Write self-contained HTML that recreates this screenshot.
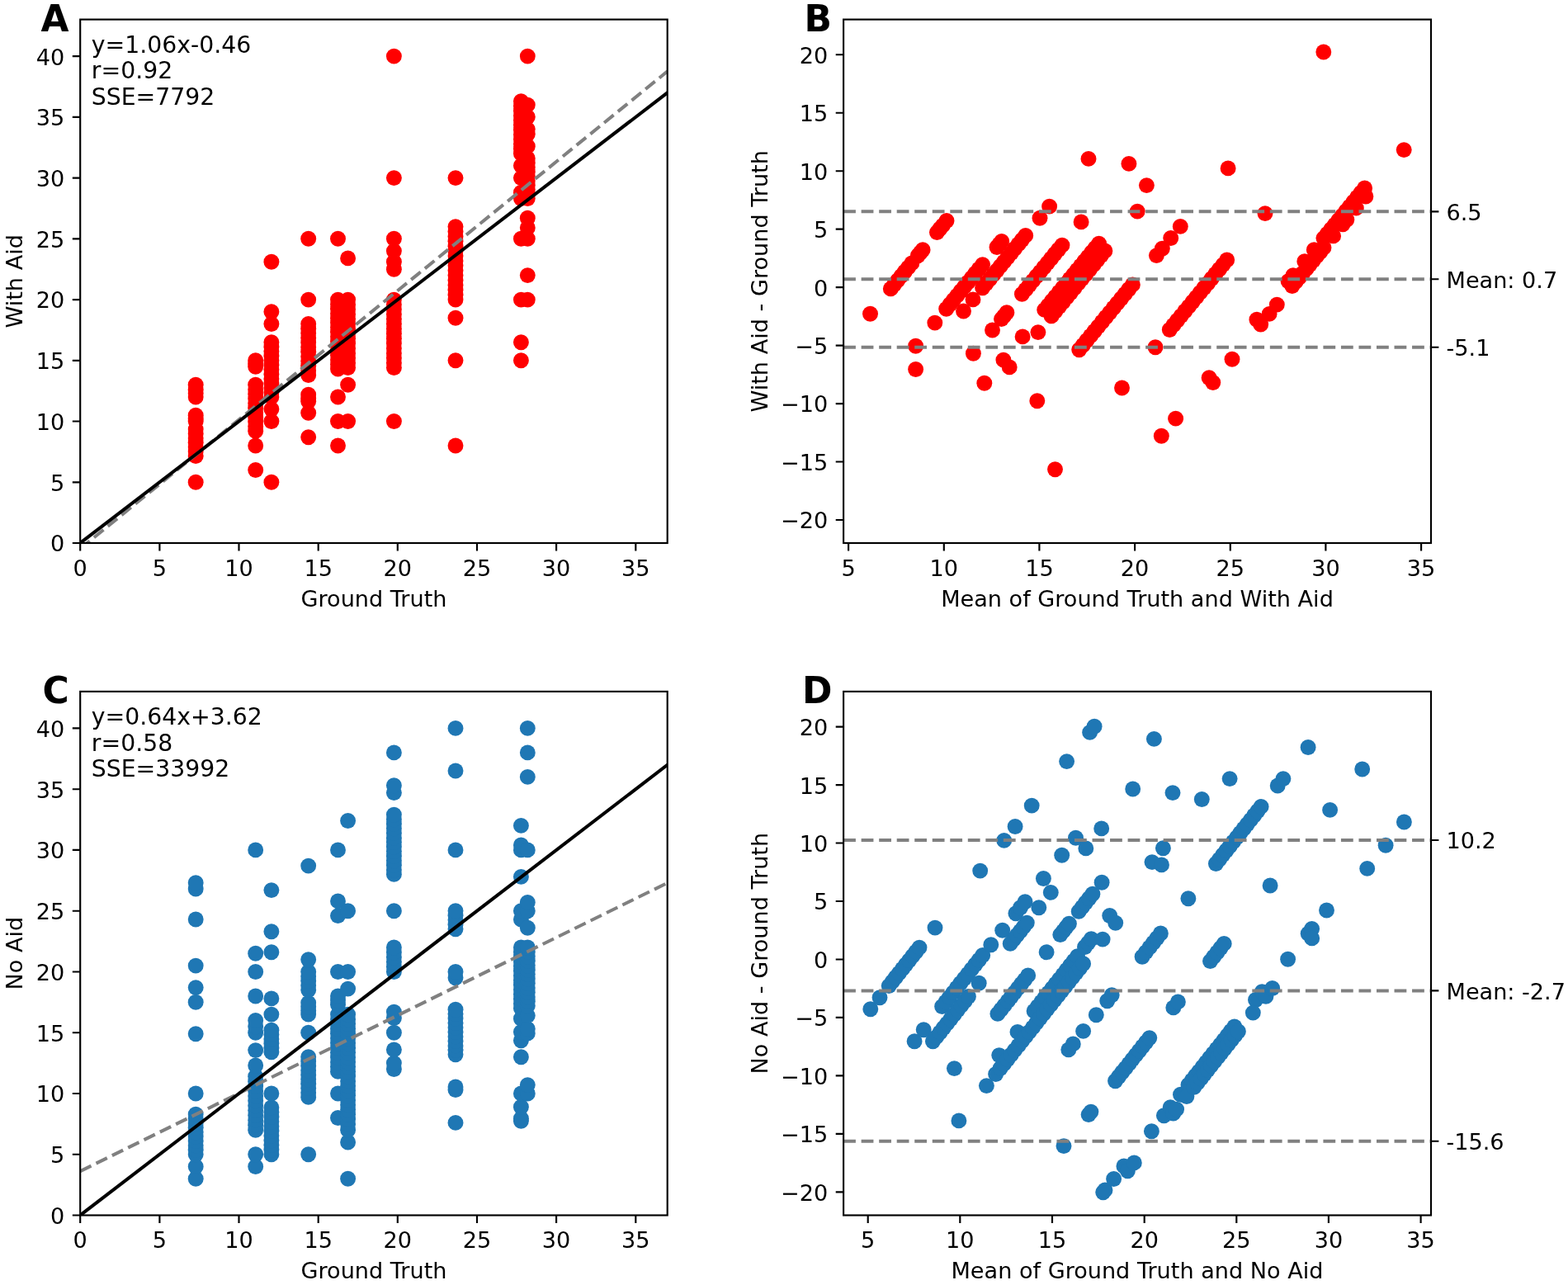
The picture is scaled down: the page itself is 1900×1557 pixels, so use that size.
<!DOCTYPE html>
<html lang="en"><head><meta charset="utf-8"><title>Figure: With Aid / No Aid vs Ground Truth</title>
<style>html,body{margin:0;padding:0;background:#fff}body{width:1900px;height:1557px;overflow:hidden}svg{display:block}text{font-family:"DejaVu Sans","Liberation Sans",sans-serif;fill:#000}.t{font-size:27.10px}.n{font-size:28.30px}.b{font-size:43.90px;font-weight:bold}.sp{fill:none;stroke:#000;stroke-width:2.15;stroke-linecap:square}.tk{stroke:#000;stroke-width:2.15;fill:none}.ln{stroke:#000;stroke-width:4.05;fill:none;stroke-linecap:square}.dl{stroke:#808080;stroke-width:4.05;fill:none;stroke-dasharray:14.8 6.73}.r{fill:#ff0000}.u{fill:#1f77b4}</style></head><body>
<svg width="1900" height="1557" viewBox="0 0 1900 1557">
<rect width="1900" height="1557" fill="#fff"/>
<defs>
<clipPath id="cA"><rect x="97.2" y="23.6" width="711.5" height="634.4"/></clipPath>
<clipPath id="cB"><rect x="1022.1" y="23.6" width="711.9" height="634.4"/></clipPath>
<clipPath id="cC"><rect x="97.2" y="837.9" width="711.5" height="634.6"/></clipPath>
<clipPath id="cD"><rect x="1022.1" y="837.9" width="711.9" height="634.6"/></clipPath>
</defs>
<g id="panel-A">
<g clip-path="url(#cA)">
<g class="r"><circle cx="237.2" cy="584.3" r="9.45"/><circle cx="237.2" cy="552.6" r="9.45"/><circle cx="237.2" cy="547.1" r="9.45"/><circle cx="237.2" cy="541.7" r="9.45"/><circle cx="237.2" cy="536.3" r="9.45"/><circle cx="237.2" cy="530.9" r="9.45"/><circle cx="237.2" cy="525.5" r="9.45"/><circle cx="237.2" cy="520.1" r="9.45"/><circle cx="237.2" cy="510.5" r="9.45"/><circle cx="237.2" cy="506.8" r="9.45"/><circle cx="237.2" cy="503.2" r="9.45"/><circle cx="237.2" cy="481" r="9.45"/><circle cx="237.2" cy="476.6" r="9.45"/><circle cx="237.2" cy="472.2" r="9.45"/><circle cx="237.2" cy="466.3" r="9.45"/><circle cx="309.7" cy="569.5" r="9.45"/><circle cx="309.7" cy="540" r="9.45"/><circle cx="309.7" cy="522.3" r="9.45"/><circle cx="309.7" cy="516.7" r="9.45"/><circle cx="309.7" cy="511.1" r="9.45"/><circle cx="309.7" cy="505.5" r="9.45"/><circle cx="309.7" cy="499.9" r="9.45"/><circle cx="309.7" cy="494.3" r="9.45"/><circle cx="309.7" cy="488.7" r="9.45"/><circle cx="309.7" cy="483.1" r="9.45"/><circle cx="309.7" cy="477.5" r="9.45"/><circle cx="309.7" cy="471.9" r="9.45"/><circle cx="309.7" cy="466.3" r="9.45"/><circle cx="309.7" cy="444.2" r="9.45"/><circle cx="309.7" cy="440.5" r="9.45"/><circle cx="309.7" cy="436.8" r="9.45"/><circle cx="328.9" cy="584.3" r="9.45"/><circle cx="328.9" cy="510.5" r="9.45"/><circle cx="328.9" cy="495.8" r="9.45"/><circle cx="328.9" cy="481" r="9.45"/><circle cx="328.9" cy="475.5" r="9.45"/><circle cx="328.9" cy="470" r="9.45"/><circle cx="328.9" cy="464.4" r="9.45"/><circle cx="328.9" cy="458.9" r="9.45"/><circle cx="328.9" cy="453.4" r="9.45"/><circle cx="328.9" cy="447.8" r="9.45"/><circle cx="328.9" cy="442.3" r="9.45"/><circle cx="328.9" cy="436.8" r="9.45"/><circle cx="328.9" cy="431.3" r="9.45"/><circle cx="328.9" cy="425.7" r="9.45"/><circle cx="328.9" cy="420.2" r="9.45"/><circle cx="328.9" cy="414.7" r="9.45"/><circle cx="328.9" cy="392.5" r="9.45"/><circle cx="328.9" cy="377.8" r="9.45"/><circle cx="328.9" cy="317.3" r="9.45"/><circle cx="373.7" cy="529.7" r="9.45"/><circle cx="373.7" cy="500.2" r="9.45"/><circle cx="373.7" cy="486.2" r="9.45"/><circle cx="373.7" cy="482.5" r="9.45"/><circle cx="373.7" cy="478.1" r="9.45"/><circle cx="373.7" cy="454.5" r="9.45"/><circle cx="373.7" cy="448.9" r="9.45"/><circle cx="373.7" cy="443.2" r="9.45"/><circle cx="373.7" cy="437.6" r="9.45"/><circle cx="373.7" cy="432" r="9.45"/><circle cx="373.7" cy="426.3" r="9.45"/><circle cx="373.7" cy="420.7" r="9.45"/><circle cx="373.7" cy="415.1" r="9.45"/><circle cx="373.7" cy="409.4" r="9.45"/><circle cx="373.7" cy="403.8" r="9.45"/><circle cx="373.7" cy="398.2" r="9.45"/><circle cx="373.7" cy="392.5" r="9.45"/><circle cx="373.7" cy="363.1" r="9.45"/><circle cx="373.7" cy="289.3" r="9.45"/><circle cx="409.5" cy="540" r="9.45"/><circle cx="409.5" cy="510.5" r="9.45"/><circle cx="409.5" cy="481" r="9.45"/><circle cx="409.5" cy="447.1" r="9.45"/><circle cx="409.5" cy="441.5" r="9.45"/><circle cx="409.5" cy="435.9" r="9.45"/><circle cx="409.5" cy="430.3" r="9.45"/><circle cx="409.5" cy="424.7" r="9.45"/><circle cx="409.5" cy="419.1" r="9.45"/><circle cx="409.5" cy="413.5" r="9.45"/><circle cx="409.5" cy="407.9" r="9.45"/><circle cx="409.5" cy="402.3" r="9.45"/><circle cx="409.5" cy="396.7" r="9.45"/><circle cx="409.5" cy="391.1" r="9.45"/><circle cx="409.5" cy="385.5" r="9.45"/><circle cx="409.5" cy="379.9" r="9.45"/><circle cx="409.5" cy="374.3" r="9.45"/><circle cx="409.5" cy="368.7" r="9.45"/><circle cx="409.5" cy="363.1" r="9.45"/><circle cx="409.5" cy="289.3" r="9.45"/><circle cx="421.6" cy="510.5" r="9.45"/><circle cx="421.6" cy="466.3" r="9.45"/><circle cx="421.6" cy="445.6" r="9.45"/><circle cx="421.6" cy="439.7" r="9.45"/><circle cx="421.6" cy="433.8" r="9.45"/><circle cx="421.6" cy="427.9" r="9.45"/><circle cx="421.6" cy="422" r="9.45"/><circle cx="421.6" cy="416.1" r="9.45"/><circle cx="421.6" cy="410.2" r="9.45"/><circle cx="421.6" cy="404.3" r="9.45"/><circle cx="421.6" cy="398.4" r="9.45"/><circle cx="421.6" cy="392.5" r="9.45"/><circle cx="421.6" cy="386.6" r="9.45"/><circle cx="421.6" cy="380.7" r="9.45"/><circle cx="421.6" cy="374.8" r="9.45"/><circle cx="421.6" cy="368.9" r="9.45"/><circle cx="421.6" cy="363.1" r="9.45"/><circle cx="421.6" cy="312.9" r="9.45"/><circle cx="477.4" cy="510.5" r="9.45"/><circle cx="477.4" cy="445.6" r="9.45"/><circle cx="477.4" cy="439.7" r="9.45"/><circle cx="477.4" cy="433.8" r="9.45"/><circle cx="477.4" cy="427.9" r="9.45"/><circle cx="477.4" cy="422" r="9.45"/><circle cx="477.4" cy="416.1" r="9.45"/><circle cx="477.4" cy="410.2" r="9.45"/><circle cx="477.4" cy="404.3" r="9.45"/><circle cx="477.4" cy="398.4" r="9.45"/><circle cx="477.4" cy="392.5" r="9.45"/><circle cx="477.4" cy="386.6" r="9.45"/><circle cx="477.4" cy="380.7" r="9.45"/><circle cx="477.4" cy="374.8" r="9.45"/><circle cx="477.4" cy="368.9" r="9.45"/><circle cx="477.4" cy="363.1" r="9.45"/><circle cx="477.4" cy="326.2" r="9.45"/><circle cx="477.4" cy="317.3" r="9.45"/><circle cx="477.4" cy="304.1" r="9.45"/><circle cx="477.4" cy="289.3" r="9.45"/><circle cx="477.4" cy="215.6" r="9.45"/><circle cx="477.4" cy="68.1" r="9.45"/><circle cx="552" cy="540" r="9.45"/><circle cx="552" cy="436.8" r="9.45"/><circle cx="552" cy="385.2" r="9.45"/><circle cx="552" cy="363.1" r="9.45"/><circle cx="552" cy="357.2" r="9.45"/><circle cx="552" cy="351.3" r="9.45"/><circle cx="552" cy="345.4" r="9.45"/><circle cx="552" cy="339.5" r="9.45"/><circle cx="552" cy="333.6" r="9.45"/><circle cx="552" cy="327.7" r="9.45"/><circle cx="552" cy="321.8" r="9.45"/><circle cx="552" cy="315.9" r="9.45"/><circle cx="552" cy="310" r="9.45"/><circle cx="552" cy="304.1" r="9.45"/><circle cx="552" cy="298.2" r="9.45"/><circle cx="552" cy="292.3" r="9.45"/><circle cx="552" cy="286.4" r="9.45"/><circle cx="552" cy="280.5" r="9.45"/><circle cx="552" cy="274.6" r="9.45"/><circle cx="552" cy="215.6" r="9.45"/><circle cx="631.4" cy="436.8" r="9.45"/><circle cx="631.4" cy="414.7" r="9.45"/><circle cx="631.4" cy="363.1" r="9.45"/><circle cx="631.4" cy="289.3" r="9.45"/><circle cx="631.4" cy="240.6" r="9.45"/><circle cx="631.4" cy="233.3" r="9.45"/><circle cx="631.4" cy="215.6" r="9.45"/><circle cx="631.4" cy="200.8" r="9.45"/><circle cx="631.4" cy="186.1" r="9.45"/><circle cx="631.4" cy="180.3" r="9.45"/><circle cx="631.4" cy="174.6" r="9.45"/><circle cx="631.4" cy="168.8" r="9.45"/><circle cx="631.4" cy="163" r="9.45"/><circle cx="631.4" cy="157.3" r="9.45"/><circle cx="631.4" cy="151.5" r="9.45"/><circle cx="631.4" cy="145.7" r="9.45"/><circle cx="631.4" cy="140" r="9.45"/><circle cx="631.4" cy="134.2" r="9.45"/><circle cx="631.4" cy="128.4" r="9.45"/><circle cx="631.4" cy="122.7" r="9.45"/><circle cx="639.3" cy="363.1" r="9.45"/><circle cx="639.3" cy="333.6" r="9.45"/><circle cx="639.3" cy="289.3" r="9.45"/><circle cx="639.3" cy="276" r="9.45"/><circle cx="639.3" cy="264.2" r="9.45"/><circle cx="639.3" cy="240.6" r="9.45"/><circle cx="639.3" cy="235.2" r="9.45"/><circle cx="639.3" cy="229.8" r="9.45"/><circle cx="639.3" cy="224.4" r="9.45"/><circle cx="639.3" cy="219" r="9.45"/><circle cx="639.3" cy="213.6" r="9.45"/><circle cx="639.3" cy="208.2" r="9.45"/><circle cx="639.3" cy="202.8" r="9.45"/><circle cx="639.3" cy="197.4" r="9.45"/><circle cx="639.3" cy="192" r="9.45"/><circle cx="639.3" cy="177.2" r="9.45"/><circle cx="639.3" cy="162.5" r="9.45"/><circle cx="639.3" cy="156.6" r="9.45"/><circle cx="639.3" cy="141.8" r="9.45"/><circle cx="639.3" cy="127.1" r="9.45"/><circle cx="639.3" cy="68.1" r="9.45"/></g>
<path class="dl" d="M97.2 664.8L808.8 86.4"/>
<path class="ln" d="M97.2 658.0L808.8 112.3"/>
</g>
<rect class="sp" x="97.2" y="23.6" width="711.5" height="634.4"/>
<text class="t" text-anchor="middle" x="97.2" y="697.5">0</text><text class="t" text-anchor="middle" x="193.4" y="697.5">5</text><text class="t" text-anchor="middle" x="289.5" y="697.5">10</text><text class="t" text-anchor="middle" x="385.7" y="697.5">15</text><text class="t" text-anchor="middle" x="481.8" y="697.5">20</text><text class="t" text-anchor="middle" x="578.0" y="697.5">25</text><text class="t" text-anchor="middle" x="674.1" y="697.5">30</text><text class="t" text-anchor="middle" x="770.3" y="697.5">35</text><path class="tk" d="M97.2 658.0v9.4M193.4 658.0v9.4M289.5 658.0v9.4M385.7 658.0v9.4M481.8 658.0v9.4M578.0 658.0v9.4M674.1 658.0v9.4M770.3 658.0v9.4"/>
<text class="t" text-anchor="end" x="78.3" y="668.4">0</text><text class="t" text-anchor="end" x="78.3" y="594.7">5</text><text class="t" text-anchor="end" x="78.3" y="520.9">10</text><text class="t" text-anchor="end" x="78.3" y="447.2">15</text><text class="t" text-anchor="end" x="78.3" y="373.4">20</text><text class="t" text-anchor="end" x="78.3" y="299.7">25</text><text class="t" text-anchor="end" x="78.3" y="226.0">30</text><text class="t" text-anchor="end" x="78.3" y="152.2">35</text><text class="t" text-anchor="end" x="78.3" y="78.5">40</text><path class="tk" d="M97.2 658.0h-9.4M97.2 584.3h-9.4M97.2 510.5h-9.4M97.2 436.8h-9.4M97.2 363.1h-9.4M97.2 289.3h-9.4M97.2 215.6h-9.4M97.2 141.8h-9.4M97.2 68.1h-9.4"/>
<text class="t" text-anchor="middle" x="453.0" y="734.5">Ground Truth</text>
<text class="t" text-anchor="middle" transform="translate(26.7 340.8) rotate(-90)">With Aid</text>
<text class="n" x="110.8" y="63.70">y=1.06x-0.46</text><text class="n" x="110.8" y="95.25">r=0.92</text><text class="n" x="110.8" y="126.80">SSE=7792</text>
<text class="b" x="49.6" y="37.9">A</text>
</g>
<g id="panel-B">
<g clip-path="url(#cB)">
<g class="r"><circle cx="1054.5" cy="380.2" r="9.45"/><circle cx="1079.3" cy="349.9" r="9.45"/><circle cx="1083.6" cy="344.8" r="9.45"/><circle cx="1087.8" cy="339.6" r="9.45"/><circle cx="1092.1" cy="334.4" r="9.45"/><circle cx="1096.3" cy="329.3" r="9.45"/><circle cx="1100.5" cy="324.1" r="9.45"/><circle cx="1104.8" cy="318.9" r="9.45"/><circle cx="1112.3" cy="309.8" r="9.45"/><circle cx="1115.2" cy="306.2" r="9.45"/><circle cx="1118.1" cy="302.7" r="9.45"/><circle cx="1135.4" cy="281.6" r="9.45"/><circle cx="1138.9" cy="277.3" r="9.45"/><circle cx="1142.4" cy="273.1" r="9.45"/><circle cx="1147" cy="267.5" r="9.45"/><circle cx="1109.6" cy="419.3" r="9.45"/><circle cx="1132.8" cy="391.1" r="9.45"/><circle cx="1146.7" cy="374.2" r="9.45"/><circle cx="1151.1" cy="368.8" r="9.45"/><circle cx="1155.4" cy="363.5" r="9.45"/><circle cx="1159.8" cy="358.1" r="9.45"/><circle cx="1164.2" cy="352.8" r="9.45"/><circle cx="1168.6" cy="347.4" r="9.45"/><circle cx="1173" cy="342" r="9.45"/><circle cx="1177.4" cy="336.7" r="9.45"/><circle cx="1181.8" cy="331.3" r="9.45"/><circle cx="1186.2" cy="326" r="9.45"/><circle cx="1190.6" cy="320.6" r="9.45"/><circle cx="1208" cy="299.5" r="9.45"/><circle cx="1210.9" cy="295.9" r="9.45"/><circle cx="1213.7" cy="292.4" r="9.45"/><circle cx="1109.6" cy="447.5" r="9.45"/><circle cx="1167.5" cy="377" r="9.45"/><circle cx="1179" cy="362.9" r="9.45"/><circle cx="1190.6" cy="348.8" r="9.45"/><circle cx="1194.9" cy="343.5" r="9.45"/><circle cx="1199.3" cy="338.2" r="9.45"/><circle cx="1203.6" cy="332.9" r="9.45"/><circle cx="1208" cy="327.7" r="9.45"/><circle cx="1212.3" cy="322.4" r="9.45"/><circle cx="1216.6" cy="317.1" r="9.45"/><circle cx="1221" cy="311.8" r="9.45"/><circle cx="1225.3" cy="306.5" r="9.45"/><circle cx="1229.6" cy="301.2" r="9.45"/><circle cx="1234" cy="295.9" r="9.45"/><circle cx="1238.3" cy="290.7" r="9.45"/><circle cx="1242.7" cy="285.4" r="9.45"/><circle cx="1260" cy="264.2" r="9.45"/><circle cx="1271.6" cy="250.1" r="9.45"/><circle cx="1319" cy="192.4" r="9.45"/><circle cx="1179.4" cy="428.2" r="9.45"/><circle cx="1202.5" cy="400" r="9.45"/><circle cx="1213.5" cy="386.6" r="9.45"/><circle cx="1216.4" cy="383.1" r="9.45"/><circle cx="1219.9" cy="378.8" r="9.45"/><circle cx="1238.4" cy="356.3" r="9.45"/><circle cx="1242.8" cy="350.9" r="9.45"/><circle cx="1247.2" cy="345.5" r="9.45"/><circle cx="1251.6" cy="340.1" r="9.45"/><circle cx="1256" cy="334.7" r="9.45"/><circle cx="1260.5" cy="329.4" r="9.45"/><circle cx="1264.9" cy="324" r="9.45"/><circle cx="1269.3" cy="318.6" r="9.45"/><circle cx="1273.7" cy="313.2" r="9.45"/><circle cx="1278.1" cy="307.8" r="9.45"/><circle cx="1282.5" cy="302.5" r="9.45"/><circle cx="1287" cy="297.1" r="9.45"/><circle cx="1310.1" cy="268.9" r="9.45"/><circle cx="1367.9" cy="198.4" r="9.45"/><circle cx="1192.8" cy="464.2" r="9.45"/><circle cx="1215.9" cy="436.1" r="9.45"/><circle cx="1239.1" cy="407.9" r="9.45"/><circle cx="1265.7" cy="375.4" r="9.45"/><circle cx="1270.1" cy="370.1" r="9.45"/><circle cx="1274.5" cy="364.7" r="9.45"/><circle cx="1278.9" cy="359.4" r="9.45"/><circle cx="1283.3" cy="354" r="9.45"/><circle cx="1287.7" cy="348.7" r="9.45"/><circle cx="1292.1" cy="343.3" r="9.45"/><circle cx="1296.4" cy="338" r="9.45"/><circle cx="1300.8" cy="332.6" r="9.45"/><circle cx="1305.2" cy="327.2" r="9.45"/><circle cx="1309.6" cy="321.9" r="9.45"/><circle cx="1314" cy="316.5" r="9.45"/><circle cx="1318.4" cy="311.2" r="9.45"/><circle cx="1322.8" cy="305.8" r="9.45"/><circle cx="1327.2" cy="300.5" r="9.45"/><circle cx="1331.6" cy="295.1" r="9.45"/><circle cx="1389.4" cy="224.6" r="9.45"/><circle cx="1223.2" cy="444.9" r="9.45"/><circle cx="1257.9" cy="402.6" r="9.45"/><circle cx="1274.1" cy="382.9" r="9.45"/><circle cx="1278.7" cy="377.3" r="9.45"/><circle cx="1283.4" cy="371.6" r="9.45"/><circle cx="1288" cy="366" r="9.45"/><circle cx="1292.6" cy="360.4" r="9.45"/><circle cx="1297.3" cy="354.7" r="9.45"/><circle cx="1301.9" cy="349.1" r="9.45"/><circle cx="1306.5" cy="343.4" r="9.45"/><circle cx="1311.1" cy="337.8" r="9.45"/><circle cx="1315.8" cy="332.2" r="9.45"/><circle cx="1320.4" cy="326.5" r="9.45"/><circle cx="1325" cy="320.9" r="9.45"/><circle cx="1329.6" cy="315.3" r="9.45"/><circle cx="1334.3" cy="309.6" r="9.45"/><circle cx="1338.9" cy="304" r="9.45"/><circle cx="1378.2" cy="256.1" r="9.45"/><circle cx="1256.8" cy="485.8" r="9.45"/><circle cx="1307.7" cy="423.8" r="9.45"/><circle cx="1312.3" cy="418.2" r="9.45"/><circle cx="1316.9" cy="412.5" r="9.45"/><circle cx="1321.5" cy="406.9" r="9.45"/><circle cx="1326.2" cy="401.2" r="9.45"/><circle cx="1330.8" cy="395.6" r="9.45"/><circle cx="1335.4" cy="390" r="9.45"/><circle cx="1340.1" cy="384.3" r="9.45"/><circle cx="1344.7" cy="378.7" r="9.45"/><circle cx="1349.3" cy="373" r="9.45"/><circle cx="1353.9" cy="367.4" r="9.45"/><circle cx="1358.6" cy="361.8" r="9.45"/><circle cx="1363.2" cy="356.1" r="9.45"/><circle cx="1367.8" cy="350.5" r="9.45"/><circle cx="1372.4" cy="344.9" r="9.45"/><circle cx="1401.4" cy="309.6" r="9.45"/><circle cx="1408.3" cy="301.2" r="9.45"/><circle cx="1418.7" cy="288.5" r="9.45"/><circle cx="1430.3" cy="274.4" r="9.45"/><circle cx="1488.1" cy="203.9" r="9.45"/><circle cx="1603.8" cy="63" r="9.45"/><circle cx="1278.5" cy="568.7" r="9.45"/><circle cx="1359.5" cy="470" r="9.45"/><circle cx="1400" cy="420.7" r="9.45"/><circle cx="1417.3" cy="399.5" r="9.45"/><circle cx="1421.9" cy="393.9" r="9.45"/><circle cx="1426.6" cy="388.3" r="9.45"/><circle cx="1431.2" cy="382.6" r="9.45"/><circle cx="1435.8" cy="377" r="9.45"/><circle cx="1440.5" cy="371.4" r="9.45"/><circle cx="1445.1" cy="365.7" r="9.45"/><circle cx="1449.7" cy="360.1" r="9.45"/><circle cx="1454.3" cy="354.4" r="9.45"/><circle cx="1459" cy="348.8" r="9.45"/><circle cx="1463.6" cy="343.2" r="9.45"/><circle cx="1468.2" cy="337.5" r="9.45"/><circle cx="1472.8" cy="331.9" r="9.45"/><circle cx="1477.5" cy="326.3" r="9.45"/><circle cx="1482.1" cy="320.6" r="9.45"/><circle cx="1486.7" cy="315" r="9.45"/><circle cx="1533" cy="258.6" r="9.45"/><circle cx="1407.3" cy="528.2" r="9.45"/><circle cx="1424.6" cy="507.1" r="9.45"/><circle cx="1465.1" cy="457.8" r="9.45"/><circle cx="1522.9" cy="387.3" r="9.45"/><circle cx="1561.1" cy="340.8" r="9.45"/><circle cx="1566.9" cy="333.7" r="9.45"/><circle cx="1580.8" cy="316.8" r="9.45"/><circle cx="1592.3" cy="302.7" r="9.45"/><circle cx="1603.9" cy="288.6" r="9.45"/><circle cx="1608.4" cy="283.1" r="9.45"/><circle cx="1612.9" cy="277.6" r="9.45"/><circle cx="1617.5" cy="272.1" r="9.45"/><circle cx="1622" cy="266.6" r="9.45"/><circle cx="1626.5" cy="261.1" r="9.45"/><circle cx="1631" cy="255.6" r="9.45"/><circle cx="1635.5" cy="250.1" r="9.45"/><circle cx="1640.1" cy="244.5" r="9.45"/><circle cx="1644.6" cy="239" r="9.45"/><circle cx="1649.1" cy="233.5" r="9.45"/><circle cx="1653.6" cy="228" r="9.45"/><circle cx="1469.8" cy="463.5" r="9.45"/><circle cx="1493" cy="435.3" r="9.45"/><circle cx="1527.7" cy="393.1" r="9.45"/><circle cx="1538.1" cy="380.4" r="9.45"/><circle cx="1547.3" cy="369.1" r="9.45"/><circle cx="1565.8" cy="346.5" r="9.45"/><circle cx="1570.1" cy="341.4" r="9.45"/><circle cx="1574.3" cy="336.2" r="9.45"/><circle cx="1578.6" cy="331" r="9.45"/><circle cx="1582.8" cy="325.9" r="9.45"/><circle cx="1587" cy="320.7" r="9.45"/><circle cx="1591.3" cy="315.5" r="9.45"/><circle cx="1595.5" cy="310.4" r="9.45"/><circle cx="1599.8" cy="305.2" r="9.45"/><circle cx="1604" cy="300" r="9.45"/><circle cx="1615.6" cy="285.9" r="9.45"/><circle cx="1627.1" cy="271.8" r="9.45"/><circle cx="1631.8" cy="266.2" r="9.45"/><circle cx="1643.3" cy="252.1" r="9.45"/><circle cx="1654.9" cy="238" r="9.45"/><circle cx="1701.2" cy="181.6" r="9.45"/></g>
<path class="dl" d="M1022.1 256.3H1734.0"/>
<path class="dl" d="M1022.1 338.2H1734.0"/>
<path class="dl" d="M1022.1 420.7H1734.0"/>
</g>
<rect class="sp" x="1022.1" y="23.6" width="711.9" height="634.4"/>
<text class="t" text-anchor="middle" x="1028.1" y="697.5">5</text><text class="t" text-anchor="middle" x="1143.8" y="697.5">10</text><text class="t" text-anchor="middle" x="1259.4" y="697.5">15</text><text class="t" text-anchor="middle" x="1375.1" y="697.5">20</text><text class="t" text-anchor="middle" x="1490.8" y="697.5">25</text><text class="t" text-anchor="middle" x="1606.4" y="697.5">30</text><text class="t" text-anchor="middle" x="1722.1" y="697.5">35</text><path class="tk" d="M1028.1 658.0v9.4M1143.8 658.0v9.4M1259.4 658.0v9.4M1375.1 658.0v9.4M1490.8 658.0v9.4M1606.4 658.0v9.4M1722.1 658.0v9.4"/>
<text class="t" text-anchor="end" x="1003.2" y="640.4">−20</text><text class="t" text-anchor="end" x="1003.2" y="569.9">−15</text><text class="t" text-anchor="end" x="1003.2" y="499.4">−10</text><text class="t" text-anchor="end" x="1003.2" y="429.0">−5</text><text class="t" text-anchor="end" x="1003.2" y="358.5">0</text><text class="t" text-anchor="end" x="1003.2" y="288.0">5</text><text class="t" text-anchor="end" x="1003.2" y="217.6">10</text><text class="t" text-anchor="end" x="1003.2" y="147.1">15</text><text class="t" text-anchor="end" x="1003.2" y="76.6">20</text><path class="tk" d="M1022.1 630.0h-9.4M1022.1 559.5h-9.4M1022.1 489.1h-9.4M1022.1 418.6h-9.4M1022.1 348.1h-9.4M1022.1 277.6h-9.4M1022.1 207.2h-9.4M1022.1 136.7h-9.4M1022.1 66.2h-9.4"/>
<text class="t" x="1752.5" y="266.7">6.5</text><text class="t" x="1752.5" y="348.6">Mean: 0.7</text><text class="t" x="1752.5" y="431.1">-5.1</text><path class="tk" d="M1734.0 256.3h9.4M1734.0 338.2h9.4M1734.0 420.7h9.4"/>
<text class="t" text-anchor="middle" x="1378.0" y="734.5">Mean of Ground Truth and With Aid</text>
<text class="t" text-anchor="middle" transform="translate(930.0 340.8) rotate(-90)">With Aid - Ground Truth</text>
<text class="b" x="974.5" y="37.9">B</text>
</g>
<g id="panel-C">
<g clip-path="url(#cC)">
<g class="u"><circle cx="237.2" cy="1428.2" r="9.45"/><circle cx="237.2" cy="1413.5" r="9.45"/><circle cx="237.2" cy="1398.7" r="9.45"/><circle cx="237.2" cy="1393.3" r="9.45"/><circle cx="237.2" cy="1387.9" r="9.45"/><circle cx="237.2" cy="1382.5" r="9.45"/><circle cx="237.2" cy="1377.1" r="9.45"/><circle cx="237.2" cy="1371.7" r="9.45"/><circle cx="237.2" cy="1366.3" r="9.45"/><circle cx="237.2" cy="1360.9" r="9.45"/><circle cx="237.2" cy="1355.5" r="9.45"/><circle cx="237.2" cy="1350.1" r="9.45"/><circle cx="237.2" cy="1325" r="9.45"/><circle cx="237.2" cy="1252.7" r="9.45"/><circle cx="237.2" cy="1214.3" r="9.45"/><circle cx="237.2" cy="1196.6" r="9.45"/><circle cx="237.2" cy="1170.1" r="9.45"/><circle cx="237.2" cy="1114" r="9.45"/><circle cx="237.2" cy="1077.1" r="9.45"/><circle cx="237.2" cy="1069.8" r="9.45"/><circle cx="309.7" cy="1413.5" r="9.45"/><circle cx="309.7" cy="1398.7" r="9.45"/><circle cx="309.7" cy="1369.2" r="9.45"/><circle cx="309.7" cy="1363.3" r="9.45"/><circle cx="309.7" cy="1357.4" r="9.45"/><circle cx="309.7" cy="1351.5" r="9.45"/><circle cx="309.7" cy="1345.6" r="9.45"/><circle cx="309.7" cy="1339.7" r="9.45"/><circle cx="309.7" cy="1333.8" r="9.45"/><circle cx="309.7" cy="1327.9" r="9.45"/><circle cx="309.7" cy="1322" r="9.45"/><circle cx="309.7" cy="1316.1" r="9.45"/><circle cx="309.7" cy="1310.2" r="9.45"/><circle cx="309.7" cy="1304.3" r="9.45"/><circle cx="309.7" cy="1291" r="9.45"/><circle cx="309.7" cy="1272.6" r="9.45"/><circle cx="309.7" cy="1251.2" r="9.45"/><circle cx="309.7" cy="1243.8" r="9.45"/><circle cx="309.7" cy="1236.5" r="9.45"/><circle cx="309.7" cy="1207" r="9.45"/><circle cx="309.7" cy="1177.5" r="9.45"/><circle cx="309.7" cy="1155.3" r="9.45"/><circle cx="309.7" cy="1029.9" r="9.45"/><circle cx="328.9" cy="1398.7" r="9.45"/><circle cx="328.9" cy="1393.1" r="9.45"/><circle cx="328.9" cy="1387.4" r="9.45"/><circle cx="328.9" cy="1381.7" r="9.45"/><circle cx="328.9" cy="1376" r="9.45"/><circle cx="328.9" cy="1370.3" r="9.45"/><circle cx="328.9" cy="1364.7" r="9.45"/><circle cx="328.9" cy="1359" r="9.45"/><circle cx="328.9" cy="1353.3" r="9.45"/><circle cx="328.9" cy="1347.6" r="9.45"/><circle cx="328.9" cy="1341.9" r="9.45"/><circle cx="328.9" cy="1325" r="9.45"/><circle cx="328.9" cy="1274.8" r="9.45"/><circle cx="328.9" cy="1269.5" r="9.45"/><circle cx="328.9" cy="1264.2" r="9.45"/><circle cx="328.9" cy="1258.9" r="9.45"/><circle cx="328.9" cy="1253.6" r="9.45"/><circle cx="328.9" cy="1248.3" r="9.45"/><circle cx="328.9" cy="1229.1" r="9.45"/><circle cx="328.9" cy="1209.9" r="9.45"/><circle cx="328.9" cy="1153.8" r="9.45"/><circle cx="328.9" cy="1128.8" r="9.45"/><circle cx="328.9" cy="1078.6" r="9.45"/><circle cx="373.7" cy="1398.7" r="9.45"/><circle cx="373.7" cy="1329.4" r="9.45"/><circle cx="373.7" cy="1324" r="9.45"/><circle cx="373.7" cy="1318.6" r="9.45"/><circle cx="373.7" cy="1313.2" r="9.45"/><circle cx="373.7" cy="1307.8" r="9.45"/><circle cx="373.7" cy="1302.4" r="9.45"/><circle cx="373.7" cy="1296.9" r="9.45"/><circle cx="373.7" cy="1291.5" r="9.45"/><circle cx="373.7" cy="1286.1" r="9.45"/><circle cx="373.7" cy="1280.7" r="9.45"/><circle cx="373.7" cy="1251.2" r="9.45"/><circle cx="373.7" cy="1229.1" r="9.45"/><circle cx="373.7" cy="1224.4" r="9.45"/><circle cx="373.7" cy="1219.7" r="9.45"/><circle cx="373.7" cy="1215.1" r="9.45"/><circle cx="373.7" cy="1199.6" r="9.45"/><circle cx="373.7" cy="1194" r="9.45"/><circle cx="373.7" cy="1188.5" r="9.45"/><circle cx="373.7" cy="1183" r="9.45"/><circle cx="373.7" cy="1177.5" r="9.45"/><circle cx="373.7" cy="1162.7" r="9.45"/><circle cx="373.7" cy="1049.1" r="9.45"/><circle cx="409.5" cy="1354.5" r="9.45"/><circle cx="409.5" cy="1325" r="9.45"/><circle cx="409.5" cy="1298.4" r="9.45"/><circle cx="409.5" cy="1292.6" r="9.45"/><circle cx="409.5" cy="1286.9" r="9.45"/><circle cx="409.5" cy="1281.1" r="9.45"/><circle cx="409.5" cy="1275.3" r="9.45"/><circle cx="409.5" cy="1269.5" r="9.45"/><circle cx="409.5" cy="1263.8" r="9.45"/><circle cx="409.5" cy="1258" r="9.45"/><circle cx="409.5" cy="1252.2" r="9.45"/><circle cx="409.5" cy="1246.4" r="9.45"/><circle cx="409.5" cy="1240.6" r="9.45"/><circle cx="409.5" cy="1234.9" r="9.45"/><circle cx="409.5" cy="1229.1" r="9.45"/><circle cx="409.5" cy="1217.3" r="9.45"/><circle cx="409.5" cy="1212.1" r="9.45"/><circle cx="409.5" cy="1207" r="9.45"/><circle cx="409.5" cy="1177.5" r="9.45"/><circle cx="409.5" cy="1109.6" r="9.45"/><circle cx="409.5" cy="1091.9" r="9.45"/><circle cx="409.5" cy="1029.9" r="9.45"/><circle cx="421.6" cy="1428.2" r="9.45"/><circle cx="421.6" cy="1384" r="9.45"/><circle cx="421.6" cy="1369.2" r="9.45"/><circle cx="421.6" cy="1361.9" r="9.45"/><circle cx="421.6" cy="1356.1" r="9.45"/><circle cx="421.6" cy="1350.3" r="9.45"/><circle cx="421.6" cy="1344.5" r="9.45"/><circle cx="421.6" cy="1338.8" r="9.45"/><circle cx="421.6" cy="1333" r="9.45"/><circle cx="421.6" cy="1327.2" r="9.45"/><circle cx="421.6" cy="1321.4" r="9.45"/><circle cx="421.6" cy="1315.7" r="9.45"/><circle cx="421.6" cy="1309.9" r="9.45"/><circle cx="421.6" cy="1304.1" r="9.45"/><circle cx="421.6" cy="1298.4" r="9.45"/><circle cx="421.6" cy="1292.6" r="9.45"/><circle cx="421.6" cy="1286.8" r="9.45"/><circle cx="421.6" cy="1281" r="9.45"/><circle cx="421.6" cy="1275.3" r="9.45"/><circle cx="421.6" cy="1269.5" r="9.45"/><circle cx="421.6" cy="1263.7" r="9.45"/><circle cx="421.6" cy="1257.9" r="9.45"/><circle cx="421.6" cy="1252.2" r="9.45"/><circle cx="421.6" cy="1246.4" r="9.45"/><circle cx="421.6" cy="1240.6" r="9.45"/><circle cx="421.6" cy="1234.9" r="9.45"/><circle cx="421.6" cy="1229.1" r="9.45"/><circle cx="421.6" cy="1198.1" r="9.45"/><circle cx="421.6" cy="1177.5" r="9.45"/><circle cx="421.6" cy="1103.7" r="9.45"/><circle cx="421.6" cy="994.5" r="9.45"/><circle cx="477.4" cy="1295.5" r="9.45"/><circle cx="477.4" cy="1288.1" r="9.45"/><circle cx="477.4" cy="1271.9" r="9.45"/><circle cx="477.4" cy="1251.2" r="9.45"/><circle cx="477.4" cy="1233.5" r="9.45"/><circle cx="477.4" cy="1226.1" r="9.45"/><circle cx="477.4" cy="1177.5" r="9.45"/><circle cx="477.4" cy="1171.5" r="9.45"/><circle cx="477.4" cy="1165.6" r="9.45"/><circle cx="477.4" cy="1159.7" r="9.45"/><circle cx="477.4" cy="1153.8" r="9.45"/><circle cx="477.4" cy="1147.9" r="9.45"/><circle cx="477.4" cy="1103.7" r="9.45"/><circle cx="477.4" cy="1059.4" r="9.45"/><circle cx="477.4" cy="1053.9" r="9.45"/><circle cx="477.4" cy="1048.3" r="9.45"/><circle cx="477.4" cy="1042.7" r="9.45"/><circle cx="477.4" cy="1037.2" r="9.45"/><circle cx="477.4" cy="1031.6" r="9.45"/><circle cx="477.4" cy="1026.1" r="9.45"/><circle cx="477.4" cy="1020.5" r="9.45"/><circle cx="477.4" cy="1014.9" r="9.45"/><circle cx="477.4" cy="1009.4" r="9.45"/><circle cx="477.4" cy="1003.8" r="9.45"/><circle cx="477.4" cy="998.3" r="9.45"/><circle cx="477.4" cy="992.7" r="9.45"/><circle cx="477.4" cy="987.1" r="9.45"/><circle cx="477.4" cy="960.6" r="9.45"/><circle cx="477.4" cy="951.7" r="9.45"/><circle cx="477.4" cy="911.9" r="9.45"/><circle cx="552" cy="1360.4" r="9.45"/><circle cx="552" cy="1320.5" r="9.45"/><circle cx="552" cy="1316.9" r="9.45"/><circle cx="552" cy="1277.8" r="9.45"/><circle cx="552" cy="1272.3" r="9.45"/><circle cx="552" cy="1266.9" r="9.45"/><circle cx="552" cy="1261.4" r="9.45"/><circle cx="552" cy="1255.9" r="9.45"/><circle cx="552" cy="1250.5" r="9.45"/><circle cx="552" cy="1245" r="9.45"/><circle cx="552" cy="1239.6" r="9.45"/><circle cx="552" cy="1234.1" r="9.45"/><circle cx="552" cy="1228.6" r="9.45"/><circle cx="552" cy="1223.2" r="9.45"/><circle cx="552" cy="1184.8" r="9.45"/><circle cx="552" cy="1177.5" r="9.45"/><circle cx="552" cy="1125.8" r="9.45"/><circle cx="552" cy="1120.3" r="9.45"/><circle cx="552" cy="1114.8" r="9.45"/><circle cx="552" cy="1109.2" r="9.45"/><circle cx="552" cy="1103.7" r="9.45"/><circle cx="552" cy="1029.9" r="9.45"/><circle cx="552" cy="934" r="9.45"/><circle cx="552" cy="882.4" r="9.45"/><circle cx="631.4" cy="1358.2" r="9.45"/><circle cx="631.4" cy="1355.2" r="9.45"/><circle cx="631.4" cy="1341.2" r="9.45"/><circle cx="631.4" cy="1325" r="9.45"/><circle cx="631.4" cy="1280.7" r="9.45"/><circle cx="631.4" cy="1260.8" r="9.45"/><circle cx="631.4" cy="1250.5" r="9.45"/><circle cx="631.4" cy="1234.2" r="9.45"/><circle cx="631.4" cy="1221.7" r="9.45"/><circle cx="631.4" cy="1216" r="9.45"/><circle cx="631.4" cy="1210.4" r="9.45"/><circle cx="631.4" cy="1204.7" r="9.45"/><circle cx="631.4" cy="1199" r="9.45"/><circle cx="631.4" cy="1193.3" r="9.45"/><circle cx="631.4" cy="1187.7" r="9.45"/><circle cx="631.4" cy="1182" r="9.45"/><circle cx="631.4" cy="1176.3" r="9.45"/><circle cx="631.4" cy="1170.6" r="9.45"/><circle cx="631.4" cy="1165" r="9.45"/><circle cx="631.4" cy="1159.3" r="9.45"/><circle cx="631.4" cy="1153.6" r="9.45"/><circle cx="631.4" cy="1147.9" r="9.45"/><circle cx="631.4" cy="1114" r="9.45"/><circle cx="631.4" cy="1103.7" r="9.45"/><circle cx="631.4" cy="1062.4" r="9.45"/><circle cx="631.4" cy="1029.9" r="9.45"/><circle cx="631.4" cy="1024" r="9.45"/><circle cx="631.4" cy="1000.4" r="9.45"/><circle cx="639.3" cy="1325" r="9.45"/><circle cx="639.3" cy="1314.6" r="9.45"/><circle cx="639.3" cy="1252" r="9.45"/><circle cx="639.3" cy="1246.8" r="9.45"/><circle cx="639.3" cy="1230.6" r="9.45"/><circle cx="639.3" cy="1218.8" r="9.45"/><circle cx="639.3" cy="1213.3" r="9.45"/><circle cx="639.3" cy="1207.9" r="9.45"/><circle cx="639.3" cy="1202.4" r="9.45"/><circle cx="639.3" cy="1197" r="9.45"/><circle cx="639.3" cy="1191.5" r="9.45"/><circle cx="639.3" cy="1186.1" r="9.45"/><circle cx="639.3" cy="1180.6" r="9.45"/><circle cx="639.3" cy="1175.2" r="9.45"/><circle cx="639.3" cy="1169.7" r="9.45"/><circle cx="639.3" cy="1164.3" r="9.45"/><circle cx="639.3" cy="1158.8" r="9.45"/><circle cx="639.3" cy="1153.4" r="9.45"/><circle cx="639.3" cy="1147.9" r="9.45"/><circle cx="639.3" cy="1124.3" r="9.45"/><circle cx="639.3" cy="1103.7" r="9.45"/><circle cx="639.3" cy="1093.4" r="9.45"/><circle cx="639.3" cy="1029.9" r="9.45"/><circle cx="639.3" cy="941.4" r="9.45"/><circle cx="639.3" cy="911.9" r="9.45"/><circle cx="639.3" cy="882.4" r="9.45"/></g>
<path class="dl" d="M97.2 1419.1L808.8 1069.8"/>
<path class="ln" d="M97.2 1472.5L808.8 926.7"/>
</g>
<rect class="sp" x="97.2" y="837.9" width="711.5" height="634.6"/>
<text class="t" text-anchor="middle" x="97.2" y="1512.0">0</text><text class="t" text-anchor="middle" x="193.4" y="1512.0">5</text><text class="t" text-anchor="middle" x="289.5" y="1512.0">10</text><text class="t" text-anchor="middle" x="385.7" y="1512.0">15</text><text class="t" text-anchor="middle" x="481.8" y="1512.0">20</text><text class="t" text-anchor="middle" x="578.0" y="1512.0">25</text><text class="t" text-anchor="middle" x="674.1" y="1512.0">30</text><text class="t" text-anchor="middle" x="770.3" y="1512.0">35</text><path class="tk" d="M97.2 1472.5v9.4M193.4 1472.5v9.4M289.5 1472.5v9.4M385.7 1472.5v9.4M481.8 1472.5v9.4M578.0 1472.5v9.4M674.1 1472.5v9.4M770.3 1472.5v9.4"/>
<text class="t" text-anchor="end" x="78.3" y="1482.9">0</text><text class="t" text-anchor="end" x="78.3" y="1409.1">5</text><text class="t" text-anchor="end" x="78.3" y="1335.4">10</text><text class="t" text-anchor="end" x="78.3" y="1261.6">15</text><text class="t" text-anchor="end" x="78.3" y="1187.9">20</text><text class="t" text-anchor="end" x="78.3" y="1114.1">25</text><text class="t" text-anchor="end" x="78.3" y="1040.3">30</text><text class="t" text-anchor="end" x="78.3" y="966.6">35</text><text class="t" text-anchor="end" x="78.3" y="892.8">40</text><path class="tk" d="M97.2 1472.5h-9.4M97.2 1398.7h-9.4M97.2 1325.0h-9.4M97.2 1251.2h-9.4M97.2 1177.5h-9.4M97.2 1103.7h-9.4M97.2 1029.9h-9.4M97.2 956.2h-9.4M97.2 882.4h-9.4"/>
<text class="t" text-anchor="middle" x="453.0" y="1549.0">Ground Truth</text>
<text class="t" text-anchor="middle" transform="translate(26.7 1155.2) rotate(-90)">No Aid</text>
<text class="n" x="110.8" y="878.00">y=0.64x+3.62</text><text class="n" x="110.8" y="909.55">r=0.58</text><text class="n" x="110.8" y="941.10">SSE=33992</text>
<text class="b" x="51.5" y="852.2">C</text>
</g>
<g id="panel-D">
<g clip-path="url(#cD)">
<g class="u"><circle cx="1054.8" cy="1222.8" r="9.45"/><circle cx="1066" cy="1208.7" r="9.45"/><circle cx="1077.2" cy="1194.6" r="9.45"/><circle cx="1081.3" cy="1189.4" r="9.45"/><circle cx="1085.3" cy="1184.2" r="9.45"/><circle cx="1089.4" cy="1179.1" r="9.45"/><circle cx="1093.5" cy="1173.9" r="9.45"/><circle cx="1097.6" cy="1168.7" r="9.45"/><circle cx="1101.7" cy="1163.6" r="9.45"/><circle cx="1105.8" cy="1158.4" r="9.45"/><circle cx="1109.9" cy="1153.2" r="9.45"/><circle cx="1114" cy="1148.1" r="9.45"/><circle cx="1133" cy="1124.1" r="9.45"/><circle cx="1187.7" cy="1055.1" r="9.45"/><circle cx="1216.7" cy="1018.4" r="9.45"/><circle cx="1230.1" cy="1001.5" r="9.45"/><circle cx="1250.2" cy="976.1" r="9.45"/><circle cx="1292.6" cy="922.6" r="9.45"/><circle cx="1320.6" cy="887.4" r="9.45"/><circle cx="1326.1" cy="880.3" r="9.45"/><circle cx="1108.1" cy="1261.8" r="9.45"/><circle cx="1119.2" cy="1247.7" r="9.45"/><circle cx="1141.6" cy="1219.5" r="9.45"/><circle cx="1146" cy="1213.9" r="9.45"/><circle cx="1150.5" cy="1208.3" r="9.45"/><circle cx="1155" cy="1202.6" r="9.45"/><circle cx="1159.4" cy="1197" r="9.45"/><circle cx="1163.9" cy="1191.3" r="9.45"/><circle cx="1168.4" cy="1185.7" r="9.45"/><circle cx="1172.8" cy="1180.1" r="9.45"/><circle cx="1177.3" cy="1174.4" r="9.45"/><circle cx="1181.8" cy="1168.8" r="9.45"/><circle cx="1186.2" cy="1163.2" r="9.45"/><circle cx="1190.7" cy="1157.5" r="9.45"/><circle cx="1200.8" cy="1144.8" r="9.45"/><circle cx="1214.7" cy="1127.2" r="9.45"/><circle cx="1230.9" cy="1106.8" r="9.45"/><circle cx="1236.5" cy="1099.7" r="9.45"/><circle cx="1242.1" cy="1092.7" r="9.45"/><circle cx="1264.4" cy="1064.5" r="9.45"/><circle cx="1286.7" cy="1036.3" r="9.45"/><circle cx="1303.5" cy="1015.2" r="9.45"/><circle cx="1398.4" cy="895.4" r="9.45"/><circle cx="1130.4" cy="1261.8" r="9.45"/><circle cx="1134.7" cy="1256.4" r="9.45"/><circle cx="1139" cy="1251" r="9.45"/><circle cx="1143.3" cy="1245.5" r="9.45"/><circle cx="1147.6" cy="1240.1" r="9.45"/><circle cx="1151.9" cy="1234.7" r="9.45"/><circle cx="1156.2" cy="1229.2" r="9.45"/><circle cx="1160.5" cy="1223.8" r="9.45"/><circle cx="1164.8" cy="1218.4" r="9.45"/><circle cx="1169.1" cy="1213" r="9.45"/><circle cx="1173.4" cy="1207.5" r="9.45"/><circle cx="1186.2" cy="1191.3" r="9.45"/><circle cx="1224.2" cy="1143.4" r="9.45"/><circle cx="1228.2" cy="1138.4" r="9.45"/><circle cx="1232.2" cy="1133.3" r="9.45"/><circle cx="1236.3" cy="1128.2" r="9.45"/><circle cx="1240.3" cy="1123.1" r="9.45"/><circle cx="1244.3" cy="1118.1" r="9.45"/><circle cx="1258.8" cy="1099.7" r="9.45"/><circle cx="1273.3" cy="1081.4" r="9.45"/><circle cx="1315.8" cy="1027.9" r="9.45"/><circle cx="1334.7" cy="1003.9" r="9.45"/><circle cx="1372.7" cy="956" r="9.45"/><circle cx="1156.4" cy="1294.6" r="9.45"/><circle cx="1208.9" cy="1228.4" r="9.45"/><circle cx="1213" cy="1223.2" r="9.45"/><circle cx="1217.1" cy="1218.1" r="9.45"/><circle cx="1221.2" cy="1212.9" r="9.45"/><circle cx="1225.3" cy="1207.7" r="9.45"/><circle cx="1229.4" cy="1202.6" r="9.45"/><circle cx="1233.5" cy="1197.4" r="9.45"/><circle cx="1237.6" cy="1192.2" r="9.45"/><circle cx="1241.7" cy="1187.1" r="9.45"/><circle cx="1245.7" cy="1181.9" r="9.45"/><circle cx="1268.1" cy="1153.7" r="9.45"/><circle cx="1284.8" cy="1132.6" r="9.45"/><circle cx="1288.4" cy="1128.1" r="9.45"/><circle cx="1291.9" cy="1123.6" r="9.45"/><circle cx="1295.4" cy="1119.2" r="9.45"/><circle cx="1307.2" cy="1104.4" r="9.45"/><circle cx="1311.3" cy="1099.1" r="9.45"/><circle cx="1315.5" cy="1093.8" r="9.45"/><circle cx="1319.7" cy="1088.5" r="9.45"/><circle cx="1323.9" cy="1083.3" r="9.45"/><circle cx="1335.1" cy="1069.2" r="9.45"/><circle cx="1421" cy="960.6" r="9.45"/><circle cx="1210.7" cy="1278.6" r="9.45"/><circle cx="1233" cy="1250.4" r="9.45"/><circle cx="1253.1" cy="1225" r="9.45"/><circle cx="1257.5" cy="1219.5" r="9.45"/><circle cx="1261.9" cy="1214" r="9.45"/><circle cx="1266.2" cy="1208.5" r="9.45"/><circle cx="1270.6" cy="1202.9" r="9.45"/><circle cx="1275" cy="1197.4" r="9.45"/><circle cx="1279.4" cy="1191.9" r="9.45"/><circle cx="1283.7" cy="1186.4" r="9.45"/><circle cx="1288.1" cy="1180.9" r="9.45"/><circle cx="1292.5" cy="1175.3" r="9.45"/><circle cx="1296.8" cy="1169.8" r="9.45"/><circle cx="1301.2" cy="1164.3" r="9.45"/><circle cx="1305.6" cy="1158.8" r="9.45"/><circle cx="1314.5" cy="1147.5" r="9.45"/><circle cx="1318.4" cy="1142.6" r="9.45"/><circle cx="1322.3" cy="1137.6" r="9.45"/><circle cx="1344.7" cy="1109.5" r="9.45"/><circle cx="1396" cy="1044.6" r="9.45"/><circle cx="1409.4" cy="1027.7" r="9.45"/><circle cx="1456.3" cy="968.5" r="9.45"/><circle cx="1161.9" cy="1357.9" r="9.45"/><circle cx="1195.4" cy="1315.6" r="9.45"/><circle cx="1206.6" cy="1301.5" r="9.45"/><circle cx="1212.1" cy="1294.5" r="9.45"/><circle cx="1216.5" cy="1289" r="9.45"/><circle cx="1220.9" cy="1283.5" r="9.45"/><circle cx="1225.2" cy="1278" r="9.45"/><circle cx="1229.6" cy="1272.4" r="9.45"/><circle cx="1234" cy="1266.9" r="9.45"/><circle cx="1238.4" cy="1261.4" r="9.45"/><circle cx="1242.7" cy="1255.9" r="9.45"/><circle cx="1247.1" cy="1250.4" r="9.45"/><circle cx="1251.5" cy="1244.9" r="9.45"/><circle cx="1255.8" cy="1239.4" r="9.45"/><circle cx="1260.2" cy="1233.8" r="9.45"/><circle cx="1264.6" cy="1228.3" r="9.45"/><circle cx="1268.9" cy="1222.8" r="9.45"/><circle cx="1273.3" cy="1217.3" r="9.45"/><circle cx="1277.7" cy="1211.8" r="9.45"/><circle cx="1282" cy="1206.3" r="9.45"/><circle cx="1286.4" cy="1200.8" r="9.45"/><circle cx="1290.8" cy="1195.2" r="9.45"/><circle cx="1295.2" cy="1189.7" r="9.45"/><circle cx="1299.5" cy="1184.2" r="9.45"/><circle cx="1303.9" cy="1178.7" r="9.45"/><circle cx="1308.3" cy="1173.2" r="9.45"/><circle cx="1312.6" cy="1167.7" r="9.45"/><circle cx="1336.1" cy="1138.1" r="9.45"/><circle cx="1351.7" cy="1118.3" r="9.45"/><circle cx="1407.5" cy="1047.9" r="9.45"/><circle cx="1490.1" cy="943.6" r="9.45"/><circle cx="1294.8" cy="1271.9" r="9.45"/><circle cx="1300.3" cy="1264.9" r="9.45"/><circle cx="1312.6" cy="1249.4" r="9.45"/><circle cx="1328.3" cy="1229.7" r="9.45"/><circle cx="1341.7" cy="1212.8" r="9.45"/><circle cx="1347.2" cy="1205.7" r="9.45"/><circle cx="1384.1" cy="1159.2" r="9.45"/><circle cx="1388.5" cy="1153.6" r="9.45"/><circle cx="1393" cy="1147.9" r="9.45"/><circle cx="1397.5" cy="1142.3" r="9.45"/><circle cx="1401.9" cy="1136.7" r="9.45"/><circle cx="1406.4" cy="1131" r="9.45"/><circle cx="1439.9" cy="1088.7" r="9.45"/><circle cx="1473.4" cy="1046.5" r="9.45"/><circle cx="1477.6" cy="1041.2" r="9.45"/><circle cx="1481.8" cy="1035.8" r="9.45"/><circle cx="1486" cy="1030.5" r="9.45"/><circle cx="1490.2" cy="1025.2" r="9.45"/><circle cx="1494.4" cy="1019.9" r="9.45"/><circle cx="1498.7" cy="1014.6" r="9.45"/><circle cx="1502.9" cy="1009.3" r="9.45"/><circle cx="1507.1" cy="1004" r="9.45"/><circle cx="1511.3" cy="998.7" r="9.45"/><circle cx="1515.5" cy="993.4" r="9.45"/><circle cx="1519.7" cy="988" r="9.45"/><circle cx="1523.9" cy="982.7" r="9.45"/><circle cx="1528.1" cy="977.4" r="9.45"/><circle cx="1548.2" cy="952" r="9.45"/><circle cx="1554.9" cy="943.6" r="9.45"/><circle cx="1585.1" cy="905.5" r="9.45"/><circle cx="1289" cy="1388.6" r="9.45"/><circle cx="1319.1" cy="1350.6" r="9.45"/><circle cx="1321.9" cy="1347.1" r="9.45"/><circle cx="1351.5" cy="1309.7" r="9.45"/><circle cx="1355.6" cy="1304.5" r="9.45"/><circle cx="1359.7" cy="1299.3" r="9.45"/><circle cx="1363.9" cy="1294.1" r="9.45"/><circle cx="1368" cy="1288.9" r="9.45"/><circle cx="1372.1" cy="1283.6" r="9.45"/><circle cx="1376.3" cy="1278.4" r="9.45"/><circle cx="1380.4" cy="1273.2" r="9.45"/><circle cx="1384.5" cy="1268" r="9.45"/><circle cx="1388.7" cy="1262.8" r="9.45"/><circle cx="1392.8" cy="1257.6" r="9.45"/><circle cx="1421.8" cy="1220.9" r="9.45"/><circle cx="1427.4" cy="1213.9" r="9.45"/><circle cx="1466.5" cy="1164.6" r="9.45"/><circle cx="1470.7" cy="1159.3" r="9.45"/><circle cx="1474.9" cy="1154" r="9.45"/><circle cx="1479" cy="1148.7" r="9.45"/><circle cx="1483.2" cy="1143.4" r="9.45"/><circle cx="1539.1" cy="1073" r="9.45"/><circle cx="1611.6" cy="981.4" r="9.45"/><circle cx="1650.7" cy="932" r="9.45"/><circle cx="1336.7" cy="1444.7" r="9.45"/><circle cx="1339" cy="1441.9" r="9.45"/><circle cx="1349.6" cy="1428.5" r="9.45"/><circle cx="1361.9" cy="1413" r="9.45"/><circle cx="1395.4" cy="1370.7" r="9.45"/><circle cx="1410.4" cy="1351.7" r="9.45"/><circle cx="1418.2" cy="1341.8" r="9.45"/><circle cx="1430.5" cy="1326.3" r="9.45"/><circle cx="1440" cy="1314.4" r="9.45"/><circle cx="1444.3" cy="1308.9" r="9.45"/><circle cx="1448.6" cy="1303.5" r="9.45"/><circle cx="1452.9" cy="1298.1" r="9.45"/><circle cx="1457.2" cy="1292.7" r="9.45"/><circle cx="1461.5" cy="1287.3" r="9.45"/><circle cx="1465.8" cy="1281.8" r="9.45"/><circle cx="1470.1" cy="1276.4" r="9.45"/><circle cx="1474.4" cy="1271" r="9.45"/><circle cx="1478.7" cy="1265.6" r="9.45"/><circle cx="1483" cy="1260.2" r="9.45"/><circle cx="1487.3" cy="1254.7" r="9.45"/><circle cx="1491.5" cy="1249.3" r="9.45"/><circle cx="1495.8" cy="1243.9" r="9.45"/><circle cx="1521.5" cy="1211.5" r="9.45"/><circle cx="1529.3" cy="1201.6" r="9.45"/><circle cx="1560.6" cy="1162.2" r="9.45"/><circle cx="1585.2" cy="1131.2" r="9.45"/><circle cx="1589.6" cy="1125.5" r="9.45"/><circle cx="1607.5" cy="1103" r="9.45"/><circle cx="1366.4" cy="1418.8" r="9.45"/><circle cx="1374.3" cy="1408.9" r="9.45"/><circle cx="1421.7" cy="1349" r="9.45"/><circle cx="1425.6" cy="1344.1" r="9.45"/><circle cx="1437.9" cy="1328.6" r="9.45"/><circle cx="1446.8" cy="1317.3" r="9.45"/><circle cx="1451" cy="1312.1" r="9.45"/><circle cx="1455.1" cy="1306.9" r="9.45"/><circle cx="1459.2" cy="1301.7" r="9.45"/><circle cx="1463.3" cy="1296.5" r="9.45"/><circle cx="1467.4" cy="1291.3" r="9.45"/><circle cx="1471.6" cy="1286.1" r="9.45"/><circle cx="1475.7" cy="1280.9" r="9.45"/><circle cx="1479.8" cy="1275.7" r="9.45"/><circle cx="1483.9" cy="1270.5" r="9.45"/><circle cx="1488.1" cy="1265.3" r="9.45"/><circle cx="1492.2" cy="1260.1" r="9.45"/><circle cx="1496.3" cy="1254.9" r="9.45"/><circle cx="1500.4" cy="1249.7" r="9.45"/><circle cx="1518.3" cy="1227.1" r="9.45"/><circle cx="1533.9" cy="1207.4" r="9.45"/><circle cx="1541.7" cy="1197.5" r="9.45"/><circle cx="1589.7" cy="1136.9" r="9.45"/><circle cx="1656.7" cy="1052.4" r="9.45"/><circle cx="1679.1" cy="1024.2" r="9.45"/><circle cx="1701.4" cy="996" r="9.45"/></g>
<path class="dl" d="M1022.1 1018.0H1734.0"/>
<path class="dl" d="M1022.1 1200.4H1734.0"/>
<path class="dl" d="M1022.1 1382.7H1734.0"/>
</g>
<rect class="sp" x="1022.1" y="837.9" width="711.9" height="634.6"/>
<text class="t" text-anchor="middle" x="1051.7" y="1512.0">5</text><text class="t" text-anchor="middle" x="1163.3" y="1512.0">10</text><text class="t" text-anchor="middle" x="1275.0" y="1512.0">15</text><text class="t" text-anchor="middle" x="1386.7" y="1512.0">20</text><text class="t" text-anchor="middle" x="1498.3" y="1512.0">25</text><text class="t" text-anchor="middle" x="1609.9" y="1512.0">30</text><text class="t" text-anchor="middle" x="1721.6" y="1512.0">35</text><path class="tk" d="M1051.7 1472.5v9.4M1163.3 1472.5v9.4M1275.0 1472.5v9.4M1386.7 1472.5v9.4M1498.3 1472.5v9.4M1609.9 1472.5v9.4M1721.6 1472.5v9.4"/>
<text class="t" text-anchor="end" x="1003.2" y="1454.7">−20</text><text class="t" text-anchor="end" x="1003.2" y="1384.2">−15</text><text class="t" text-anchor="end" x="1003.2" y="1313.8">−10</text><text class="t" text-anchor="end" x="1003.2" y="1243.3">−5</text><text class="t" text-anchor="end" x="1003.2" y="1172.9">0</text><text class="t" text-anchor="end" x="1003.2" y="1102.4">5</text><text class="t" text-anchor="end" x="1003.2" y="1031.9">10</text><text class="t" text-anchor="end" x="1003.2" y="961.5">15</text><text class="t" text-anchor="end" x="1003.2" y="891.0">20</text><path class="tk" d="M1022.1 1444.3h-9.4M1022.1 1373.8h-9.4M1022.1 1303.4h-9.4M1022.1 1232.9h-9.4M1022.1 1162.5h-9.4M1022.1 1092.0h-9.4M1022.1 1021.5h-9.4M1022.1 951.1h-9.4M1022.1 880.6h-9.4"/>
<text class="t" x="1752.5" y="1028.4">10.2</text><text class="t" x="1752.5" y="1210.8">Mean: -2.7</text><text class="t" x="1752.5" y="1393.1">-15.6</text><path class="tk" d="M1734.0 1018.0h9.4M1734.0 1200.4h9.4M1734.0 1382.7h9.4"/>
<text class="t" text-anchor="middle" x="1378.0" y="1549.0">Mean of Ground Truth and No Aid</text>
<text class="t" text-anchor="middle" transform="translate(930.0 1155.2) rotate(-90)">No Aid - Ground Truth</text>
<text class="b" x="972.0" y="852.2">D</text>
</g>
</svg></body></html>
